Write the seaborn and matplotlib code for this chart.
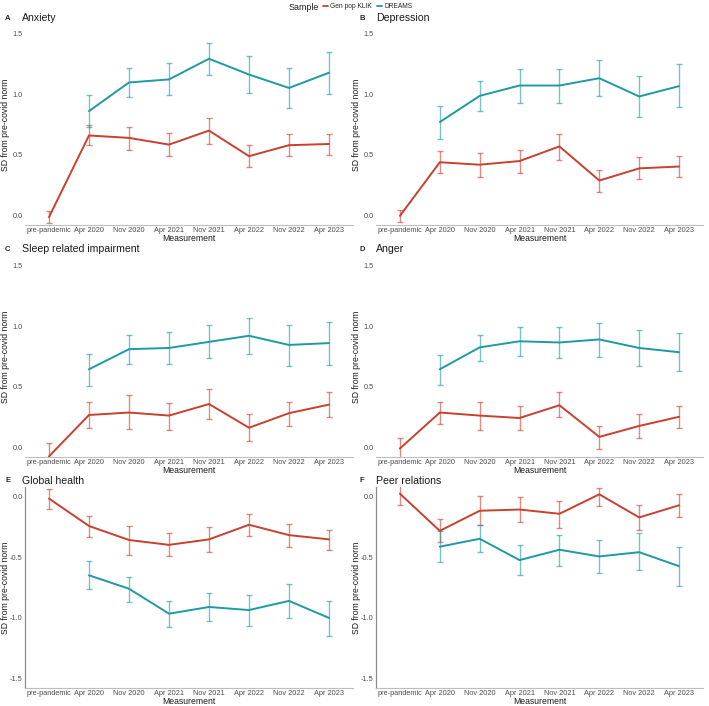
import numpy as np
import pandas as pd
import matplotlib
matplotlib.use("Agg")
import matplotlib.pyplot as plt
import seaborn as sns
from matplotlib.lines import Line2D

# ---------------- data ----------------
measurements = ["pre-pandemic", "Apr 2020", "Nov 2020", "Apr 2021",
                "Nov 2021", "Apr 2022", "Nov 2022", "Apr 2023"]
waves = measurements[1:]
samples = ["Gen pop KLIK", "DREAMS"]

# A Anxiety
anx_klik = [-0.01, 0.66, 0.64, 0.585, 0.70, 0.49, 0.58, 0.59]
anx_klik_lo = [-0.06, 0.58, 0.54, 0.49, 0.59, 0.40, 0.49, 0.50]
anx_klik_hi = [0.04, 0.75, 0.73, 0.68, 0.805, 0.58, 0.67, 0.67]
anx_dreams = [0.86, 1.095, 1.12, 1.29, 1.16, 1.05, 1.175]
anx_dreams_lo = [0.73, 0.975, 0.99, 1.155, 1.01, 0.885, 1.0]
anx_dreams_hi = [0.99, 1.21, 1.255, 1.42, 1.31, 1.21, 1.345]

# B Depression
dep_klik = [0.0, 0.44, 0.42, 0.45, 0.57, 0.29, 0.39, 0.405]
dep_klik_lo = [-0.05, 0.35, 0.32, 0.35, 0.46, 0.195, 0.30, 0.32]
dep_klik_hi = [0.05, 0.53, 0.52, 0.54, 0.675, 0.38, 0.48, 0.49]
dep_dreams = [0.77, 0.985, 1.07, 1.07, 1.13, 0.98, 1.065]
dep_dreams_lo = [0.635, 0.86, 0.93, 0.93, 0.98, 0.815, 0.89]
dep_dreams_hi = [0.905, 1.11, 1.205, 1.205, 1.28, 1.15, 1.245]

# C Sleep related impairment
slp_klik = [-0.07, 0.27, 0.29, 0.265, 0.36, 0.165, 0.285, 0.355]
slp_klik_lo = [-0.17, 0.165, 0.155, 0.15, 0.235, 0.055, 0.18, 0.255]
slp_klik_hi = [0.04, 0.38, 0.43, 0.37, 0.48, 0.275, 0.38, 0.455]
slp_dreams = [0.645, 0.81, 0.82, 0.87, 0.92, 0.845, 0.86]
slp_dreams_lo = [0.505, 0.69, 0.69, 0.735, 0.77, 0.675, 0.68]
slp_dreams_hi = [0.77, 0.925, 0.955, 1.01, 1.07, 1.01, 1.035]

# D Anger
ang_klik = [-0.005, 0.29, 0.265, 0.245, 0.35, 0.09, 0.18, 0.255]
ang_klik_lo = [-0.085, 0.195, 0.145, 0.15, 0.25, -0.01, 0.085, 0.165]
ang_klik_hi = [0.08, 0.38, 0.38, 0.34, 0.455, 0.18, 0.275, 0.345]
ang_dreams = [0.645, 0.825, 0.875, 0.865, 0.89, 0.82, 0.785]
ang_dreams_lo = [0.52, 0.71, 0.755, 0.74, 0.75, 0.67, 0.63]
ang_dreams_hi = [0.765, 0.93, 0.995, 0.99, 1.025, 0.965, 0.945]

# E Global health
glb_klik = [-0.02, -0.245, -0.36, -0.40, -0.355, -0.235, -0.32, -0.355]
glb_klik_lo = [-0.105, -0.335, -0.48, -0.495, -0.46, -0.33, -0.415, -0.44]
glb_klik_hi = [0.06, -0.16, -0.245, -0.305, -0.255, -0.145, -0.23, -0.275]
glb_dreams = [-0.65, -0.76, -0.965, -0.91, -0.935, -0.86, -1.0]
glb_dreams_lo = [-0.765, -0.865, -1.075, -1.025, -1.065, -1.0, -1.145]
glb_dreams_hi = [-0.535, -0.66, -0.86, -0.795, -0.81, -0.72, -0.86]

# F Peer relations
peer_klik = [0.02, -0.285, -0.12, -0.11, -0.145, 0.015, -0.175, -0.075]
peer_klik_lo = [-0.075, -0.38, -0.24, -0.215, -0.26, -0.085, -0.275, -0.17]
peer_klik_hi = [0.10, -0.19, 0.0, -0.01, -0.04, 0.065, -0.075, 0.02]
peer_dreams = [-0.415, -0.35, -0.525, -0.44, -0.495, -0.46, -0.575]
peer_dreams_lo = [-0.54, -0.46, -0.65, -0.57, -0.635, -0.61, -0.735]
peer_dreams_hi = [-0.29, -0.235, -0.405, -0.315, -0.36, -0.305, -0.415]

panels = [
    ("A", "Anxiety", anx_klik, anx_klik_lo, anx_klik_hi, anx_dreams, anx_dreams_lo, anx_dreams_hi),
    ("B", "Depression", dep_klik, dep_klik_lo, dep_klik_hi, dep_dreams, dep_dreams_lo, dep_dreams_hi),
    ("C", "Sleep related impairment", slp_klik, slp_klik_lo, slp_klik_hi, slp_dreams, slp_dreams_lo, slp_dreams_hi),
    ("D", "Anger", ang_klik, ang_klik_lo, ang_klik_hi, ang_dreams, ang_dreams_lo, ang_dreams_hi),
    ("E", "Global health", glb_klik, glb_klik_lo, glb_klik_hi, glb_dreams, glb_dreams_lo, glb_dreams_hi),
    ("F", "Peer relations", peer_klik, peer_klik_lo, peer_klik_hi, peer_dreams, peer_dreams_lo, peer_dreams_hi),
]

colors = {"Gen pop KLIK": "#C8402F", "DREAMS": "#1E9AA2"}

# ---------------- style ----------------
sns.set_style("white")
plt.rcParams["font.family"] = ["Liberation Sans", "DejaVu Sans"]

W, H = 709, 706
fig = plt.figure(figsize=(W / 100, H / 100), dpi=100)

# axes boxes in pixels: left, top, right, bottom
col_x = [(25, 353), (376, 703)]
row_y = [(24, 225), (256, 457), (487, 688)]
title_y = [18, 249, 481]
letter_x = [5, 360]
title_x = [22, 376]
ylab_x = [-0.046, -0.045]

pos = {m: i for i, m in enumerate(measurements)}

for k, (letter, title, kl, kl_lo, kl_hi, dr, dr_lo, dr_hi) in enumerate(panels):
    r, c = divmod(k, 2)
    x0, x1 = col_x[c]
    y0, y1 = row_y[r]
    ax = fig.add_axes([x0 / W, 1 - y1 / H, (x1 - x0) / W, (y1 - y0) / H])

    df = pd.DataFrame({
        "Measurement": measurements + waves,
        "Sample": ["Gen pop KLIK"] * len(measurements) + ["DREAMS"] * len(waves),
        "value": kl + dr,
        "lo": kl_lo + dr_lo,
        "hi": kl_hi + dr_hi,
    })
    df["x"] = df["Measurement"].map(pos)

    # error bars first (lighter), then lines on top
    for s in samples:
        d = df[df["Sample"] == s]
        ax.errorbar(d["x"], d["value"],
                    yerr=[d["value"] - d["lo"], d["hi"] - d["value"]],
                    fmt="none", ecolor=colors[s], alpha=0.6,
                    elinewidth=1.0, capsize=2.2, capthick=1.0, zorder=2)
    sns.lineplot(data=df, x="x", y="value", hue="Sample", hue_order=samples,
                 palette=colors, linewidth=1.4, legend=False, ax=ax,
                 estimator=None, sort=False, zorder=3)

    ax.set_xlim(-0.6, len(measurements) - 0.4)
    ax.set_xticks(range(len(measurements)))
    ax.set_xticklabels(measurements)
    if r < 2:
        ax.set_ylim(-0.075, 1.575)
        ax.set_yticks([0.0, 0.5, 1.0, 1.5])
    else:
        ax.set_ylim(-1.575, 0.075)
        ax.set_yticks([-1.5, -1.0, -0.5, 0.0])
    ax.set_yticklabels([f"{t:.1f}" for t in ax.get_yticks()])

    ax.tick_params(axis="both", labelsize=5.3, colors="#4D4D4D",
                   length=1.0, width=0.5, pad=0.6)
    ax.tick_params(axis="x", length=0, pad=1.5)

    for sp in ["top", "right"]:
        ax.spines[sp].set_visible(False)
    ax.spines["bottom"].set_color("#BDBDBD")
    ax.spines["bottom"].set_linewidth(0.8)
    if r == 2:
        ax.spines["left"].set_color("#8C8C8C")
        ax.spines["left"].set_linewidth(0.9)
    else:
        ax.spines["left"].set_visible(False)

    ax.set_xlabel("Measurement", fontsize=6.2, labelpad=0, color="#1A1A1A")
    ax.set_ylabel("SD from pre-covid norm", fontsize=6.2, color="#1A1A1A")
    ax.yaxis.set_label_coords(ylab_x[c], 0.5)

    fig.text(letter_x[c] / W, 1 - title_y[r] / H, letter, fontsize=5.5,
             fontweight="bold", va="center", ha="left")
    fig.text(title_x[c] / W, 1 - title_y[r] / H, title, fontsize=7.6,
             va="center", ha="left", color="#1A1A1A")

# legend at the top, ggplot style (title on the left)
fig.text(289 / W, 1 - 7 / H, "Sample", fontsize=6.4, va="center", ha="left",
         color="#1A1A1A")
handles = [Line2D([0], [0], color=colors[s], lw=1.3) for s in samples]
fig.legend(handles, samples, loc="center left", bbox_to_anchor=(323 / W, 1 - 7 / H),
           ncol=2, fontsize=4.8, frameon=False, handlelength=0.7,
           handletextpad=0.4, columnspacing=0.8, borderaxespad=0, borderpad=0)

fig.savefig("out.png", dpi=100)
